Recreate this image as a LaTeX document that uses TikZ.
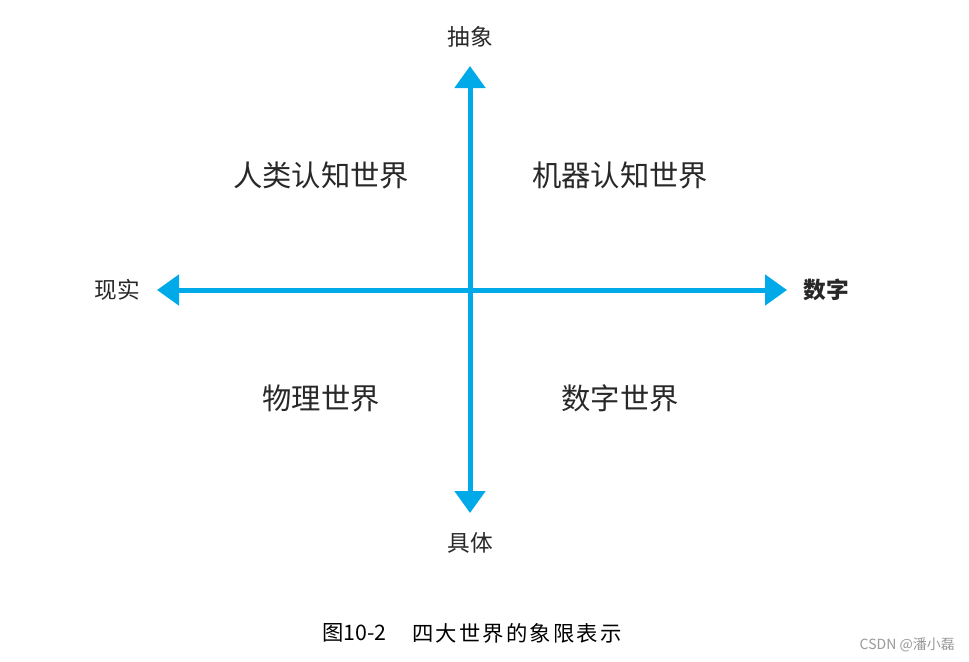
\documentclass[tikz,border=0pt]{standalone}
\usepackage{fontspec}
\setmainfont{Noto Sans CJK SC}
\newfontfamily\cjk{Noto Sans CJK SC}
\usetikzlibrary{arrows.meta}
\definecolor{axisblue}{RGB}{0,170,232}
\definecolor{txt}{RGB}{40,40,40}
\newcommand{\capgap}{\kern1.6pt}
\tikzset{
  axisline/.style={draw=axisblue, line width=3.75pt, {Triangle[width=22.5pt,length=16.5pt]}-{Triangle[width=22.5pt,length=16.5pt]}},
  quad/.style={font=\cjk\fontsize{22pt}{25pt}\selectfont, text=txt, inner sep=0pt},
  axlabel/.style={font=\cjk\fontsize{17pt}{20pt}\selectfont, text=txt, inner sep=0pt},
  caption/.style={font=\cjk\fontsize{16pt}{19pt}\selectfont, text=black, inner sep=0pt},
  mark2/.style={font=\cjk\fontsize{10.5pt}{12pt}\selectfont, text=gray!80, inner sep=0pt}
}
\begin{document}
\begin{tikzpicture}[x=0.75pt,y=-0.75pt]
\useasboundingbox (0,0) rectangle (969,661);
\fill[white] (0,0) rectangle (969,661);
\coordinate (top) at (470,66);
\coordinate (bot) at (470,513);
\coordinate (left) at (157,290);
\coordinate (right) at (787,290);
\draw[axisline] (bot) -- (top);
\draw[axisline] (left) -- (right);
\node[axlabel] (abs) at (470,37) {抽象};
\node[axlabel] (con) at (470,543) {具体};
\node[axlabel] (real) at (117,290) {现实};
\node[axlabel, font=\cjk\fontsize{17pt}{20pt}\selectfont\bfseries] (dig) at (826,290) {数字};
\node[quad] (q1) at (321,175) {人类认知世界};
\node[quad] (q2) at (620,175) {机器认知世界};
\node[quad] (q3) at (321,398) {物理世界};
\node[quad] (q4) at (620,398) {数字世界};
\node[caption, anchor=west] (cap1) at (322,633) {图10-2};
\node[caption, anchor=west] (cap2) at (412,633) {四\capgap 大\capgap 世\capgap 界\capgap 的\capgap 象\capgap 限\capgap 表\capgap 示};
\node[mark2, anchor=east] (wm) at (955,645) {CSDN @潘小磊};
\end{tikzpicture}
\end{document}
